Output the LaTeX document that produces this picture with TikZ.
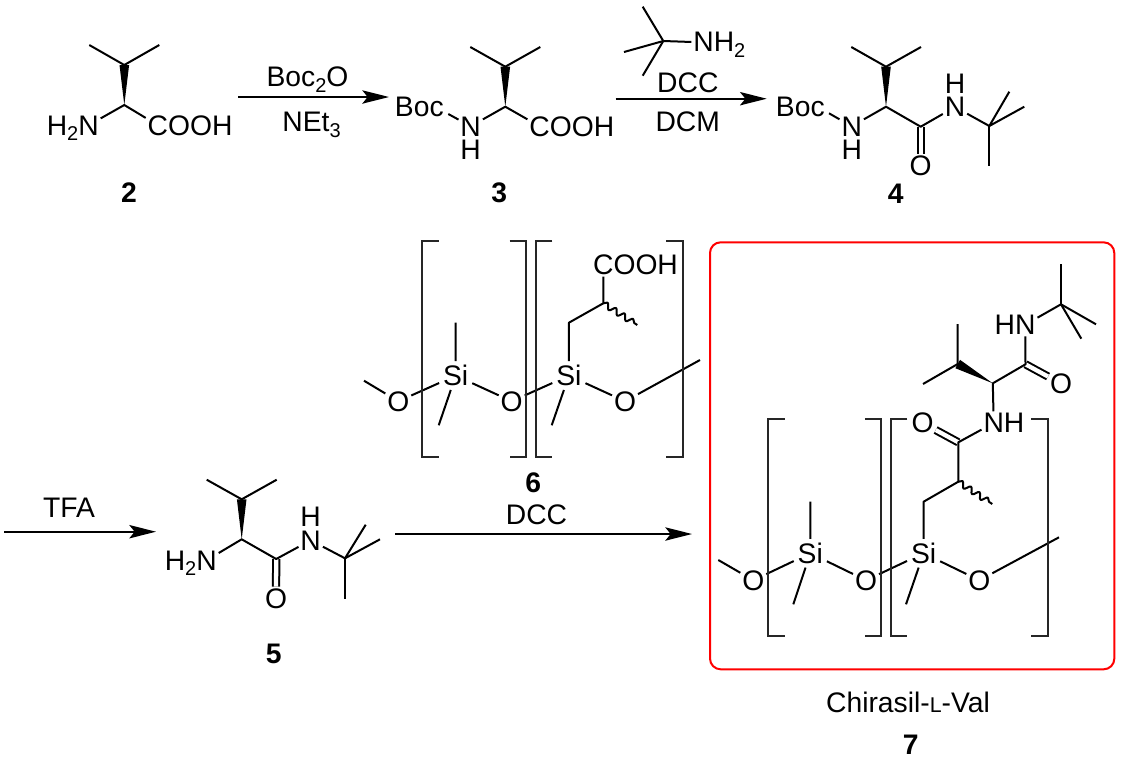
\documentclass[tikz,border=0pt]{standalone}
\usepackage{fontspec}
\setmainfont{Liberation Sans}
\usetikzlibrary{arrows.meta, positioning, calc, decorations.pathmorphing}

\newcommand{\chemsub}[1]{\raisebox{-4.2pt}{\fontsize{15}{15}\selectfont #1}}

\begin{document}
\begin{tikzpicture}[
    x=0.75pt, y=-0.75pt,
    every node/.style = {font=\fontsize{21.2}{25}\selectfont},
    atom/.style     = {inner sep=1.5pt, outer sep=0pt, anchor=base},
    silicon/.style  = {atom, inner sep=3pt},
    tail/.style     = {inner sep=0pt, outer sep=0pt},
    hydrogen/.style = {tail, anchor=base},
    reagent/.style  = {inner sep=0pt, outer sep=0pt, anchor=base},
    number/.style   = {inner sep=0pt, outer sep=0pt, font=\fontsize{21.2}{25}\selectfont\bfseries},
    bond/.style     = {line width=1.5pt, line join=round},
    dbond/.style    = {bond, double, double distance=3.2pt},
    wavy/.style     = {bond, decorate, decoration={snake, amplitude=2.2pt, segment length=7.6pt, pre length=0pt, post length=0pt}},
    bracket/.style  = {line width=1.4pt, black!85},
    solidarrow/.style = {-{Stealth[length=20pt, width=10pt, inset=4pt]}, line width=1.5pt},
    redbox/.style   = {draw=red, line width=1.5pt, rounded corners=8pt}
  ]
  \useasboundingbox (0,0) rectangle (1121,758);

  % red frame round the product
  \draw[redbox] (710,242.3) rectangle (1114.3,669.3);

  % compound 2
  \coordinate (mea2) at (89.3,45);
  \coordinate (meb2) at (159.3,45);
  \coordinate (ch2)  at (124.3,65);
  \coordinate (al2)  at (124.3,105);
  \node[atom] (n2) at (88.5,135) {N};
  \node[tail, base left=-1.5pt of n2] (h2) {H\chemsub{2}};
  \node[atom] (c2) at (157.9,135) {C};
  \node[tail, base right=-1.5pt of c2] (ooh2) {OOH};
  \node[number] (num2) at (129,192.7) {2};
  \draw[bond] (mea2) -- (ch2) -- (meb2);
  \draw[bond] (n2) -- (al2) -- (c2);

  % compound 3
  \coordinate (mea3) at (470.3,47);
  \coordinate (meb3) at (540.3,47);
  \coordinate (ch3)  at (505.3,66.7);
  \coordinate (al3)  at (505.3,106.7);
  \coordinate (bo3)  at (448.3,114);
  \node[atom] (n3)  at (470.7,136) {N};
  \node[hydrogen] (h3)  at (470.7,159.6) {H};
  \node[atom] (boc3) at (419.3,116.7) {Boc};
  \node[atom] (c3)  at (539.6,136) {C};
  \node[tail, base right=-1.5pt of c3] (ooh3) {OOH};
  \node[number] (num3) at (499.3,192.7) {3};
  \draw[bond] (mea3) -- (ch3) -- (meb3);
  \draw[bond] (bo3) -- (n3) -- (al3) -- (c3);

  % tert-butylamine over the second arrow
  \coordinate (tb) at (663.3,41);
  \coordinate (mea) at (642.7,6.7);
  \coordinate (meb) at (624,52);
  \coordinate (mec) at (642.7,75.7);
  \node[atom] (nam) at (703.6,51.7) {N};
  \node[tail, base right=-1.5pt of nam] (ham) {H\chemsub{2}};
  \draw[bond] (tb) -- (nam.west);
  \foreach \m in {mea,meb,mec}
    \draw[bond] (tb) -- (\m);

  % compound 4
  \coordinate (mea4) at (851.3,47);
  \coordinate (meb4) at (921,47);
  \coordinate (ch4)  at (886,66.7);
  \coordinate (al4)  at (886,106.7);
  \coordinate (co4)  at (920.7,126.7);
  \coordinate (bo4)  at (829,113.3);
  \coordinate (tb4)  at (989.3,126);
  \coordinate (tba4) at (1009.3,91.7);
  \coordinate (tbb4) at (1024.3,106.7);
  \coordinate (tbc4) at (989.3,166);
  \node[atom] (boc4) at (800.3,116.7) {Boc};
  \node[atom] (na4) at (851.7,136) {N};
  \node[hydrogen] (ha4) at (851.7,159.6) {H};
  \node[atom] (nb4) at (955,116.7) {N};
  \node[hydrogen] (hb4) at (955,93) {H};
  \node[atom] (o4)  at (920.7,175.7) {O};
  \node[number] (num4) at (895.7,193.3) {4};
  \draw[dbond] (co4) -- (o4);
  \draw[bond] (mea4) -- (ch4) -- (meb4);
  \draw[bond] (bo4) -- (na4) -- (al4) -- (co4) -- (nb4) -- (tb4);
  \foreach \m in {tba4,tbb4,tbc4}
    \draw[bond] (tb4) -- (\m);

  % compound 5
  \coordinate (mea5) at (206.7,479.7);
  \coordinate (meb5) at (276.7,479.7);
  \coordinate (ch5)  at (241.7,499.3);
  \coordinate (al5)  at (241.7,539.3);
  \coordinate (co5)  at (276.2,559);
  \coordinate (tb5)  at (345,558.3);
  \coordinate (tba5) at (365.7,524.7);
  \coordinate (tbb5) at (380,539.3);
  \coordinate (tbc5) at (345,599.3);
  \node[atom] (na5) at (206.5,570) {N};
  \node[tail, base left=-1.5pt of na5] (ha5) {H\chemsub{2}};
  \node[atom] (nb5) at (310.7,550) {N};
  \node[hydrogen] (hb5) at (310.7,526) {H};
  \node[atom] (o5)  at (276,608.3) {O};
  \node[number] (num5) at (273.7,654) {5};
  \draw[dbond] (co5) -- (o5);
  \draw[bond] (mea5) -- (ch5) -- (meb5);
  \draw[bond] (na5) -- (al5) -- (co5) -- (nb5) -- (tb5);
  \foreach \m in {tba5,tbb5,tbc5}
    \draw[bond] (tb5) -- (\m);

  % compound 6
  \coordinate (st6)  at (364,380.7);
  \coordinate (en6)  at (700,360);
  \coordinate (upa6) at (455.7,322.7);
  \coordinate (dwa6) at (438.7,425.3);
  \coordinate (dwb6) at (551.7,425.3);
  \coordinate (cha6) at (568.9,322.7);
  \coordinate (chb6) at (603.3,303.3);
  \coordinate (wv6)  at (637.3,325);
  \node[atom]    (oa6)  at (398.3,411) {O};
  \node[silicon] (sia6) at (455.7,385.7) {Si};
  \node[atom]    (ob6)  at (511.7,411) {O};
  \node[silicon] (sib6) at (568.9,385.7) {Si};
  \node[atom]    (oc6)  at (625,411) {O};
  \node[atom]    (c6)   at (603.3,274.3) {C};
  \node[tail, base right=-1.5pt of c6] (ooh6) {OOH};
  \node[number] (num6) at (533.3,482.7) {6};
  \draw[bond] (st6) -- (oa6) -- (sia6) -- (ob6) -- (sib6) -- (oc6) -- (en6);
  \draw[bond] (upa6) -- (sia6) -- (dwa6);
  \draw[bond] (dwb6) -- (sib6) -- (cha6) -- (chb6) -- (c6);
  \draw[wavy] (chb6) -- (wv6);

  % compound 7
  \coordinate (tb7)  at (1061,304.3);
  \coordinate (tba7) at (1061,264.3);
  \coordinate (tbb7) at (1096,324.3);
  \coordinate (tbc7) at (1081.3,338.7);
  \coordinate (coa7) at (1025.5,364.3);
  \coordinate (al7)  at (992.8,383.3);
  \coordinate (ch7)  at (957.7,364);
  \coordinate (mea7) at (957.7,324);
  \coordinate (meb7) at (923,384);
  \coordinate (cob7) at (958.3,442.3);
  \coordinate (chb7) at (958.3,481.7);
  \coordinate (chc7) at (923.6,501.7);
  \coordinate (wv7)  at (992.3,504);
  \coordinate (st7)  at (718.3,560);
  \coordinate (en7)  at (1059,537.3);
  \coordinate (upa7) at (810.3,501.7);
  \coordinate (dwa7) at (793.3,604.3);
  \coordinate (dwb7) at (906,604.3);
  \node[atom] (na7) at (1025.3,334.3) {N};
  \node[tail, base left=-1.5pt of na7] (ha7) {H};
  \node[atom] (oa7) at (1061,393.3) {O};
  \node[atom] (nb7) at (993.7,432.7) {N};
  \node[tail, base right=-1.5pt of nb7] (hb7) {H};
  \node[atom] (ob7) at (922.7,432.7) {O};
  \node[atom]    (oc7)  at (753.3,590) {O};
  \node[silicon] (sia7) at (810.3,563.3) {Si};
  \node[atom]    (od7)  at (866,590) {O};
  \node[silicon] (sib7) at (923.6,563.3) {Si};
  \node[atom]    (oe7)  at (979.3,590) {O};
  \node[reagent] (name7) at (908,712.3) {Chirasil-{\fontsize{16}{16}\selectfont L}-Val};
  \node[number] (num7) at (910.7,744.5) {7};
  \draw[dbond] (coa7) -- (oa7);
  \draw[dbond] (cob7) -- (ob7);
  \foreach \m in {tba7,tbb7,tbc7}
    \draw[bond] (tb7) -- (\m);
  \draw[bond] (tb7) -- (na7) -- (coa7) -- (al7) -- (nb7) -- (cob7) -- (chb7) -- (chc7) -- (sib7);
  \draw[bond] (mea7) -- (ch7) -- (meb7);
  \draw[wavy] (chb7) -- (wv7);
  \draw[bond] (st7) -- (oc7) -- (sia7) -- (od7) -- (sib7) -- (oe7) -- (en7);
  \draw[bond] (upa7) -- (sia7) -- (dwa7);
  \draw[bond] (sib7) -- (dwb7);

  % wedge bonds
  \foreach \a/\b in {al2/ch2, al3/ch3, al4/ch4, al5/ch5, al7/ch7}
    \fill ($(\b)!3.6pt!90:(\a)$) -- ($(\b)!3.6pt!-90:(\a)$) -- (\a) -- cycle;

  % brackets
  \foreach \xa/\xb/\ya/\yb in {422.3/526/240.7/457.3, 536/682.7/240.7/457.3,
                               768.3/881.3/419.3/636.3, 891/1047.7/419.3/636.3} {
    \draw[bracket] (\xa+16.4,\ya) -- (\xa,\ya) -- (\xa,\yb) -- (\xa+16.4,\yb);
    \draw[bracket] (\xb-16.4,\ya) -- (\xb,\ya) -- (\xb,\yb) -- (\xb-16.4,\yb);
  }

  % reaction arrows
  \coordinate (ara) at (238,97);
  \coordinate (arb) at (389,97);
  \coordinate (arc) at (615.7,98.7);
  \coordinate (ard) at (766.7,98.7);
  \coordinate (are) at (4.3,531.7);
  \coordinate (arf) at (156,531.7);
  \coordinate (arg) at (395,534);
  \coordinate (arh) at (692,534);
  \draw[solidarrow] (ara) -- (arb);
  \draw[solidarrow] (arc) -- (ard);
  \draw[solidarrow] (are) -- (arf);
  \draw[solidarrow] (arg) -- (arh);

  \node[reagent] (boc2o) at (307.5,86.7) {Boc\chemsub{2}O};
  \node[reagent] (net3)  at (311.5,131.7) {NEt\chemsub{3}};
  \node[reagent] (dcca)  at (687.8,92.7) {DCC};
  \node[reagent] (dcm)   at (687.7,131) {DCM};
  \node[reagent] (tfa)   at (69,517.3) {TFA};
  \node[reagent] (dccb)  at (536.5,524) {DCC};
\end{tikzpicture}
\end{document}
